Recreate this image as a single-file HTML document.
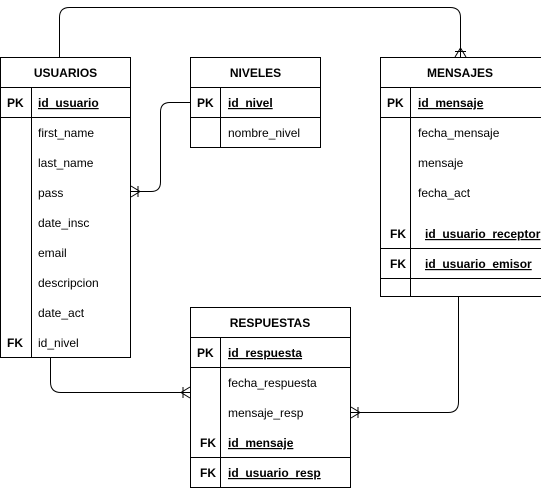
<!DOCTYPE html>
<html><head><meta charset="utf-8"><style>
html,body{margin:0;padding:0;background:#fff;}
svg{display:block;}
text{font-family:"Liberation Sans",Arial,sans-serif;font-size:12px;fill:#000;}
.h{font-weight:bold;}
.k{font-weight:bold;}
</style></head><body>
<svg width="541" height="488" viewBox="0 0 541 488" xmlns="http://www.w3.org/2000/svg">
<g fill="none" stroke="#000" stroke-width="1">
<!-- USUARIOS -->
<rect x="0.5" y="57.5" width="130" height="300"/>
<line x1="0" y1="87.5" x2="131" y2="87.5"/>
<line x1="0" y1="117.5" x2="131" y2="117.5"/>
<line x1="31.5" y1="87.5" x2="31.5" y2="357.5"/>
<!-- NIVELES -->
<rect x="190.5" y="57.5" width="130" height="90"/>
<line x1="190" y1="87.5" x2="321" y2="87.5"/>
<line x1="190" y1="117.5" x2="321" y2="117.5"/>
<line x1="220.5" y1="87.5" x2="220.5" y2="147.5"/>
<!-- MENSAJES -->
<rect x="380.5" y="57.5" width="170" height="239"/>
<line x1="380" y1="87.5" x2="541" y2="87.5"/>
<line x1="380" y1="117.5" x2="541" y2="117.5"/>
<line x1="380" y1="248.5" x2="541" y2="248.5"/>
<line x1="380" y1="278.5" x2="541" y2="278.5"/>
<line x1="410.5" y1="87.5" x2="410.5" y2="296.5"/>
<!-- RESPUESTAS -->
<rect x="190.5" y="307.5" width="160" height="180"/>
<line x1="190" y1="337.5" x2="351" y2="337.5"/>
<line x1="190" y1="367.5" x2="351" y2="367.5"/>
<line x1="190" y1="457.5" x2="351" y2="457.5"/>
<line x1="220.5" y1="337.5" x2="220.5" y2="487.5"/>
<!-- connectors -->
<path d="M59.5 57 V17.5 Q59.5 7.5 69.5 7.5 H450 Q460.5 7.5 460.5 17.5 V57"/>
<path d="M455 57 L460.5 48 L466 57 M455 51.5 H466"/>
<path d="M190 102.5 H170 Q160.5 102.5 160.5 112 V182 Q160.5 191.5 151 191.5 H131"/>
<path d="M131 186 L140 191.5 L131 197 M138 186 V197"/>
<path d="M50.5 357 V382 Q50.5 392.5 61 392.5 H190"/>
<path d="M190 387 L181 392.5 L190 398 M183 387 V398"/>
<path d="M458.5 297 V402 Q458.5 412.5 448 412.5 H351"/>
<path d="M351 407 L360 412.5 L351 418 M358 407 V418"/>
</g>
<!-- headers -->
<text class="h" x="65.5" y="77" text-anchor="middle">USUARIOS</text>
<text class="h" x="255.5" y="77" text-anchor="middle">NIVELES</text>
<text class="h" x="460" y="77" text-anchor="middle">MENSAJES</text>
<text class="h" x="270" y="327" text-anchor="middle">RESPUESTAS</text>
<!-- USUARIOS -->
<text class="k" x="7" y="107">PK</text>
<text class="k" x="38" y="107" text-decoration="underline">id_usuario</text>
<text x="38" y="137">first_name</text>
<text x="38" y="167">last_name</text>
<text x="38" y="197">pass</text>
<text x="38" y="227">date_insc</text>
<text x="38" y="257">email</text>
<text x="38" y="287">descripcion</text>
<text x="38" y="317">date_act</text>
<text class="k" x="7" y="347">FK</text>
<text x="38" y="347">id_nivel</text>
<!-- NIVELES -->
<text class="k" x="197" y="107">PK</text>
<text class="k" x="228" y="107" text-decoration="underline">id_nivel</text>
<text x="228" y="137">nombre_nivel</text>
<!-- MENSAJES -->
<text class="k" x="387" y="107">PK</text>
<text class="k" x="418" y="107" text-decoration="underline">id_mensaje</text>
<text x="418" y="137">fecha_mensaje</text>
<text x="418" y="167">mensaje</text>
<text x="418" y="197">fecha_act</text>
<text class="k" x="390" y="238">FK</text>
<text class="k" x="425" y="238" text-decoration="underline">id_usuario_receptor</text>
<text class="k" x="390" y="268">FK</text>
<text class="k" x="425" y="268" text-decoration="underline">id_usuario_emisor</text>
<!-- RESPUESTAS -->
<text class="k" x="197" y="357">PK</text>
<text class="k" x="228" y="357" text-decoration="underline">id_respuesta</text>
<text x="228" y="387">fecha_respuesta</text>
<text x="228" y="417">mensaje_resp</text>
<text class="k" x="200" y="447">FK</text>
<text class="k" x="228" y="447" text-decoration="underline">id_mensaje</text>
<text class="k" x="200" y="477">FK</text>
<text class="k" x="228" y="477" text-decoration="underline">id_usuario_resp</text>
</svg>
</body></html>
